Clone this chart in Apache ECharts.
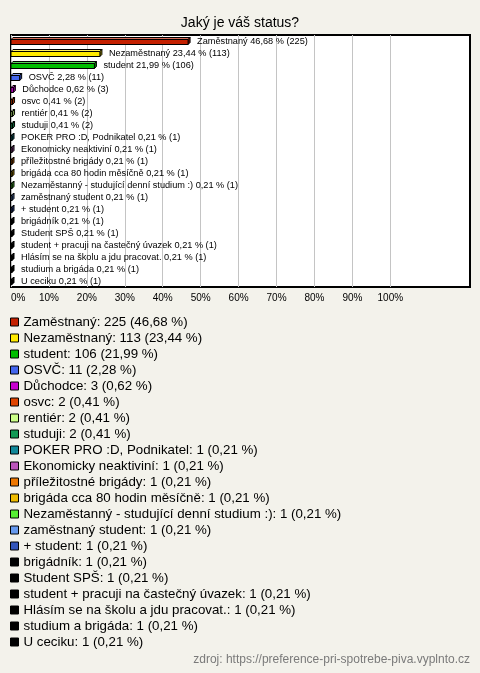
<!DOCTYPE html>
<html>
<head>
<meta charset="utf-8">
<script src="https://cdn.jsdelivr.net/npm/echarts@6/dist/echarts.min.js"></script>
<style>
html,body{margin:0;padding:0;background:#f3f2eb;}
#wrap{width:480px;height:673px;box-sizing:border-box;border:1px solid #000;background:#f3f2eb;position:relative;}
#chart{position:absolute;left:-1px;top:-1px;width:480px;height:673px;}
</style>
</head>
<body>
<div id="wrap"><div id="chart"></div></div>
<script>
var categories = ['Zaměstnaný','Nezaměstnaný','student','OSVČ','Důchodce','osvc','rentiér','studuji','POKER PRO :D, Podnikatel','Ekonomicky neaktiviní','příležitostné brigády','brigáda cca 80 hodin měsíčně','Nezaměstanný - studující denní studium :)','zaměstnaný student','+ student','brigádník','Student SPŠ','student + pracuji na častečný úvazek','Hlásím se na školu a jdu pracovat.','studium a brigáda','U ceciku'];
var counts = [225,113,106,11,3,2,2,2,1,1,1,1,1,1,1,1,1,1,1,1,1];
var percents = [46.68,23.44,21.99,2.28,0.62,0.41,0.41,0.41,0.21,0.21,0.21,0.21,0.21,0.21,0.21,0.21,0.21,0.21,0.21,0.21,0.21];
var colors = ['#c42000','#ffea00','#00bf00','#4466ee','#c800d0','#e04400','#ccff88','#119955','#118899','#bb55bb','#ee7700','#eebb00','#55ee33','#6699ee','#3355bb','#000000','#000000','#000000','#000000','#000000','#000000'];
var tickValues = [0,10,20,30,40,50,60,70,80,90,100];

function fmt(p){ return p.toFixed(2).replace('.', ','); }

function shade(hex, f){
  var n = parseInt(hex.slice(1),16);
  var r=(n>>16)&255,g=(n>>8)&255,b=n&255;
  if(f>0){ r=r+(255-r)*f; g=g+(255-g)*f; b=b+(255-b)*f; }
  else { r=r*(1+f); g=g*(1+f); b=b*(1+f); }
  return 'rgb('+Math.round(r)+','+Math.round(g)+','+Math.round(b)+')';
}

var chart = echarts.init(document.getElementById('chart'), null, {renderer:'canvas'});

var splitColors = [];
for (var i=0;i<14;i++) splitColors.push(i<=10 ? '#c4c4c4' : 'rgba(0,0,0,0)');

var series = [{
  type:'custom',
  name:'bars',
  encode:{x:0,y:1},
  data: percents.map(function(p,i){return [p,i];}),
  renderItem:function(params, api){
    var i = api.value(1);
    var p = api.value(0);
    var s = api.coord([0,i]);
    var e = api.coord([p,i]);
    var cy = s[1];
    var x0 = s[0], x1 = Math.max(e[0], x0+1);
    var d = 2, top = cy-1.5, h = 5;
    var c = colors[i];
    var st = {stroke:'#000', lineWidth:1};
    return {type:'group', children:[
      {type:'polygon', shape:{points:[[x0,top],[x0+d,top-d],[x1+d,top-d],[x1,top]]}, style:Object.assign({fill:shade(c,0.35)},st)},
      {type:'polygon', shape:{points:[[x1,top],[x1+d,top-d],[x1+d,top+h-d],[x1,top+h]]}, style:Object.assign({fill:shade(c,-0.35)},st)},
      {type:'rect', shape:{x:x0,y:top,width:x1-x0,height:h}, style:Object.assign({fill:c},st)},
      {type:'text', x:x1+9, y:cy+0.5, style:{text:categories[i]+' '+fmt(p)+' % ('+counts[i]+')', fill:'#000', font:'9.2px "Liberation Sans", Arial, sans-serif', textVerticalAlign:'middle', textAlign:'left'}}
    ]};
  },
  z:5
}];
categories.forEach(function(c,i){
  series.push({type:'bar', name:c, data:[], itemStyle:{color:colors[i]}});
});

chart.setOption({
  animation:false,
  backgroundColor:'#f3f2eb',
  title:{text:'Jaký je váš status?', left:'center', top:11, textStyle:{fontFamily:'"Liberation Sans", Arial, sans-serif', fontSize:14, fontWeight:'normal', color:'#000'}},
  grid:{left:11, top:35, width:459, height:252, show:true, backgroundColor:'#ffffff', borderColor:'#000', borderWidth:2},
  xAxis:{type:'value', min:0, max:121, interval:10,
    axisLine:{show:false}, axisTick:{show:false},
    splitLine:{show:true, lineStyle:{color:splitColors, width:1}},
    axisLabel:{margin:6, fontSize:10, color:'#000', fontFamily:'"Liberation Sans", Arial, sans-serif', alignMinLabel:'left',
      formatter:function(v){ return tickValues.indexOf(v)>=0 ? v+'%' : ''; }}
  },
  yAxis:{type:'category', inverse:true, data:categories, axisLine:{show:false}, axisTick:{show:false}, axisLabel:{show:false}, splitLine:{show:false}},
  legend:{orient:'vertical', left:10, top:314, padding:0, icon:'rect', itemWidth:8, itemHeight:8, itemGap:0, selectedMode:false,
    data:categories,
    itemStyle:{borderColor:'#000', borderWidth:1},
    textStyle:{fontSize:13.3, lineHeight:16, color:'#000', fontFamily:'"Liberation Sans", Arial, sans-serif'},
    formatter:function(name){ var i = categories.indexOf(name); return name+': '+counts[i]+' ('+fmt(percents[i])+' %)'; }
  },
  graphic:[{type:'text', right:10, top:654, style:{text:'zdroj: https://preference-pri-spotrebe-piva.vyplnto.cz', fill:'#7a7a7a', font:'12px "Liberation Sans", Arial, sans-serif'}}],
  series:series
});
</script>
</body>
</html>
